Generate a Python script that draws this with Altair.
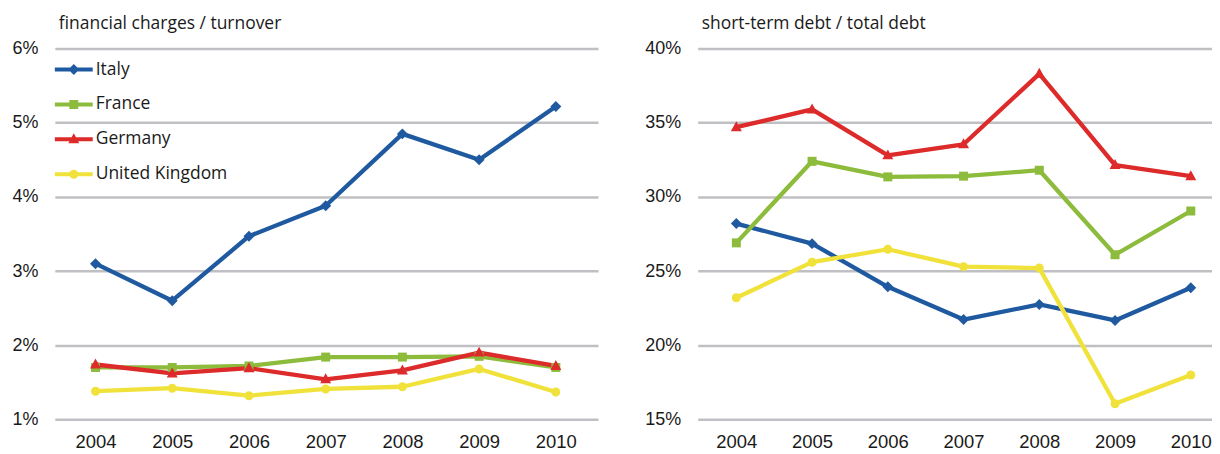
import altair as alt
import pandas as pd

years = [2004, 2005, 2006, 2007, 2008, 2009, 2010]
countries = ["Italy", "France", "Germany", "United Kingdom"]
colors = ["#1F5AA0", "#8DBB3C", "#DD2A2A", "#F0E23A"]

# financial charges / turnover (%)
fin_italy = [3.10, 2.60, 3.47, 3.88, 4.85, 4.50, 5.22]
fin_france = [1.70, 1.70, 1.72, 1.84, 1.84, 1.85, 1.70]
fin_germany = [1.74, 1.62, 1.69, 1.54, 1.66, 1.90, 1.72]
fin_uk = [1.38, 1.42, 1.32, 1.41, 1.44, 1.68, 1.37]

# short-term debt / total debt (%)
std_italy = [28.2, 26.85, 23.94, 21.73, 22.75, 21.67, 23.87]
std_france = [26.9, 32.4, 31.35, 31.4, 31.8, 26.1, 29.05]
std_germany = [34.7, 35.9, 32.8, 33.55, 38.3, 32.15, 31.4]
std_uk = [23.2, 25.6, 26.47, 25.3, 25.2, 16.05, 18.0]

left_ticks = [1, 2, 3, 4, 5, 6]
right_ticks = [15, 20, 25, 30, 35, 40]


def long_df(series):
    rows = []
    for country, vals in zip(countries, series):
        for y, v in zip(years, vals):
            rows.append({"year": y, "country": country, "value": v})
    return pd.DataFrame(rows)


fin_df = long_df([fin_italy, fin_france, fin_germany, fin_uk])
std_df = long_df([std_italy, std_france, std_germany, std_uk])

# marker shapes (custom paths, unit = sqrt(size)/2 px)
marker_paths = [
    "M0,-1.1L1.1,0L0,1.1L-1.1,0Z",
    "M-0.9,-0.9L0.9,-0.9L0.9,0.9L-0.9,0.9Z",
    "M0,-1.2L1.1,0.8L-1.1,0.8Z",
    "M-0.9,0A0.9,0.9 0 1,1 0.9,0A0.9,0.9 0 1,1 -0.9,0Z",
]

# legend symbols: line + marker (unit = 10 px)
bar = "M-1,-0.2L2.8,-0.2L2.8,0.2L-1,0.2Z "
legend_paths = [
    bar + "M0.9,-0.55L1.45,0L0.9,0.55L0.35,0Z",
    bar + "M0.45,-0.45L1.35,-0.45L1.35,0.45L0.45,0.45Z",
    bar + "M0.9,-0.6L1.45,0.4L0.35,0.4Z",
    bar + "M0.45,0A0.45,0.45 0 1,1 1.35,0A0.45,0.45 0 1,1 0.45,0Z",
]

AXIS_FONT = "Liberation Sans"
TEXT_FONT = "Open Sans"
TEXT_COLOR = "#1a1a1a"

legend = alt.Legend(
    title=None,
    orient="none",
    legendX=0,
    legendY=11,
    padding=0,
    symbolSize=400,
    symbolStrokeWidth=0,
    symbolOpacity=1,
    labelFont=TEXT_FONT,
    labelFontSize=17.5,
    labelColor=TEXT_COLOR,
    labelOffset=21,
    rowPadding=16,
)


def panel(df, title, ydomain, yticks, xdomain, width, with_legend):
    x = alt.X(
        "year:Q",
        scale=alt.Scale(domain=xdomain, nice=False, zero=False),
        axis=alt.Axis(
            values=years, format="d", title=None, grid=False, ticks=False,
            domain=False, labelFont=AXIS_FONT, labelFontSize=18.5,
            labelColor=TEXT_COLOR, labelPadding=13,
        ),
    )
    y = alt.Y(
        "value:Q",
        scale=alt.Scale(domain=ydomain, nice=False, zero=False),
        axis=alt.Axis(
            values=yticks, labelExpr="datum.value + '%'", title=None,
            grid=True, gridColor="#C0C0C4", gridWidth=2.5, ticks=False,
            domain=False, labelFont=AXIS_FONT, labelFontSize=18,
            labelColor=TEXT_COLOR, labelPadding=17,
        ),
    )
    cscale = alt.Scale(domain=countries, range=colors)
    color_nl = alt.Color("country:N", scale=cscale, legend=None)
    layers = []
    if with_legend:
        layers.append(
            alt.Chart(df)
            .transform_filter("false")
            .mark_point(filled=True, size=400, opacity=1, strokeWidth=0)
            .encode(
                x=x,
                y=y,
                color=alt.Color("country:N", scale=cscale, legend=legend),
                shape=alt.Shape(
                    "country:N",
                    scale=alt.Scale(domain=countries, range=legend_paths),
                    legend=legend,
                ),
            )
        )
    layers.append(
        alt.Chart(df).mark_line(strokeWidth=4.3, strokeJoin="round").encode(
            x=x, y=y, color=color_nl, order=alt.Order("year:Q")
        )
    )
    for c, path in zip(countries, marker_paths):
        layers.append(
            alt.Chart(df)
            .transform_filter(alt.datum.country == c)
            .mark_point(filled=True, shape=path, size=100, opacity=1, strokeWidth=0)
            .encode(x=x, y=y, color=color_nl)
        )
    return alt.layer(*layers).properties(
        width=width,
        height=372,
        title=alt.TitleParams(
            title, anchor="start", frame="group", dx=4, offset=-7,
            baseline="alphabetic", font=TEXT_FONT, fontSize=17.5,
            fontWeight="normal", color=TEXT_COLOR,
        ),
    )


left = panel(fin_df, "financial charges / turnover", [1, 6], left_ticks,
             [2003.47, 2010.55], 545, True)
right = panel(std_df, "short-term debt / total debt", [15, 40], right_ticks,
              [2003.49, 2010.28], 516, False)

chart = (
    alt.hconcat(left, right, spacing=100, bounds="flush")
    .resolve_scale(color="independent", shape="independent")
    .properties(padding={"left": 3, "top": 6, "right": 0, "bottom": 0}, background="white")
    .configure_view(stroke=None)
)

chart.save("out.html", embed_options={"renderer": "svg", "actions": False})
